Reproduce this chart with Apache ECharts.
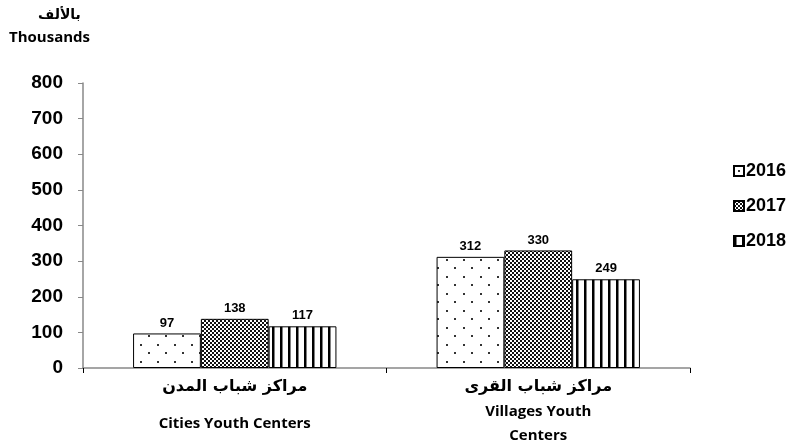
<!DOCTYPE html>
<html>
<head>
<meta charset="utf-8">
<script src="https://cdn.jsdelivr.net/npm/echarts@6/dist/echarts.min.js"></script>
<style>
  html, body { margin: 0; padding: 0; background: #fff; }
  #chart { width: 792px; height: 443px; }
</style>
</head>
<body>
<div id="chart"></div>
<script>
// data
var categoriesAr = ['مراكز شباب المدن', 'مراكز شباب القرى']
var categoriesEn = ['Cities Youth Centers', 'Villages Youth\nCenters']
var years = ['2016', '2017', '2018']
var values2016 = [97, 312]
var values2017 = [138, 330]
var values2018 = [117, 249]
var yTicks = [0, 100, 200, 300, 400, 500, 600, 700, 800]

// fill patterns for the bars
function makeDots() {
  var c = document.createElement('canvas')
  c.width = 17; c.height = 17
  var ctx = c.getContext('2d')
  ctx.fillStyle = '#fff'
  ctx.fillRect(0, 0, 17, 17)
  ctx.fillStyle = '#333'
  ctx.fillRect(4, 4, 2, 2)
  ctx.fillRect(12, 12, 2, 2)
  return c
}
function makeChecker() {
  var c = document.createElement('canvas')
  c.width = 4; c.height = 4
  var ctx = c.getContext('2d')
  ctx.fillStyle = '#fff'
  ctx.fillRect(0, 0, 4, 4)
  ctx.fillStyle = '#111'
  ctx.fillRect(0, 0, 2, 2)
  ctx.fillRect(2, 2, 2, 2)
  return c
}
function makeStripes() {
  var c = document.createElement('canvas')
  c.width = 8; c.height = 8
  var ctx = c.getContext('2d')
  ctx.fillStyle = '#fff'
  ctx.fillRect(0, 0, 8, 8)
  ctx.fillStyle = '#000'
  ctx.fillRect(0, 0, 2.5, 8)
  return c
}

var patterns = [makeDots(), makeChecker(), makeStripes()]
var seriesData = [values2016, values2017, values2018]

var chart = echarts.init(document.getElementById('chart'))

var series = years.map(function (y, i) {
  return {
    name: y,
    type: 'bar',
    data: seriesData[i],
    barGap: '0%',
    barCategoryGap: '33%',
    itemStyle: {
      color: { image: patterns[i], repeat: 'repeat' },
      borderColor: '#000',
      borderWidth: 1
    },
    label: {
      show: true,
      position: 'top',
      distance: 4,
      color: '#000',
      fontFamily: 'Liberation Sans',
      fontWeight: 'bold',
      fontSize: 13
    }
  }
})

var option = {
  animation: false,
  backgroundColor: '#fff',
  grid: { left: 83, right: 102, top: 83, bottom: 75, outerBoundsMode: 'none', containLabel: false },
  graphic: [
    {
      type: 'text', left: 38, top: 8,
      style: { text: 'بالألف', font: 'bold 14px "DejaVu Sans"', fill: '#000' }
    },
    {
      type: 'text', left: 9, top: 30,
      style: { text: 'Thousands', font: 'bold 15px "Open Sans"', fill: '#000' }
    }
  ],
  legend: {
    orient: 'vertical',
    left: 728,
    top: 157,
    itemWidth: 10,
    itemHeight: 10,
    itemGap: 17,
    icon: 'rect',
    data: years,
    textStyle: {
      color: '#000',
      fontFamily: 'Liberation Sans',
      fontWeight: 'bold',
      fontSize: 18,
      padding: [0, 0, 0, -3]
    }
  },
  xAxis: {
    type: 'category',
    data: categoriesAr,
    axisLine: { lineStyle: { color: '#888', width: 1.5 } },
    axisTick: { show: true, length: 5, lineStyle: { color: '#000' } },
    axisLabel: {
      interval: 0,
      margin: 6,
      formatter: function (v, idx) {
        var st = categoriesEn[idx].indexOf('\n') >= 0 ? 'en' : 'en1'
        return '{ar|' + v + '}\n{' + st + '|' + categoriesEn[idx] + '}'
      },
      rich: {
        ar: { fontFamily: 'DejaVu Sans', fontWeight: 'bold', fontSize: 16, color: '#000', lineHeight: 26 },
        en: { fontFamily: 'Open Sans', fontWeight: 'bold', fontSize: 15, color: '#000', lineHeight: 24 },
        en1: { fontFamily: 'Open Sans', fontWeight: 'bold', fontSize: 15, color: '#000', lineHeight: 48 }
      }
    }
  },
  yAxis: {
    type: 'value',
    min: 0,
    max: 800,
    interval: 100,
    splitLine: { show: false },
    axisLine: { show: true, lineStyle: { color: '#888', width: 1.5 } },
    axisTick: { show: true, length: 5, lineStyle: { color: '#888' } },
    axisLabel: {
      color: '#000',
      fontFamily: 'Liberation Sans',
      fontWeight: 'bold',
      fontSize: 19,
      margin: 20,
      formatter: function (v) { return yTicks.indexOf(v) >= 0 ? String(v) : '' }
    }
  },
  series: series
}

chart.setOption(option)
</script>
</body>
</html>
